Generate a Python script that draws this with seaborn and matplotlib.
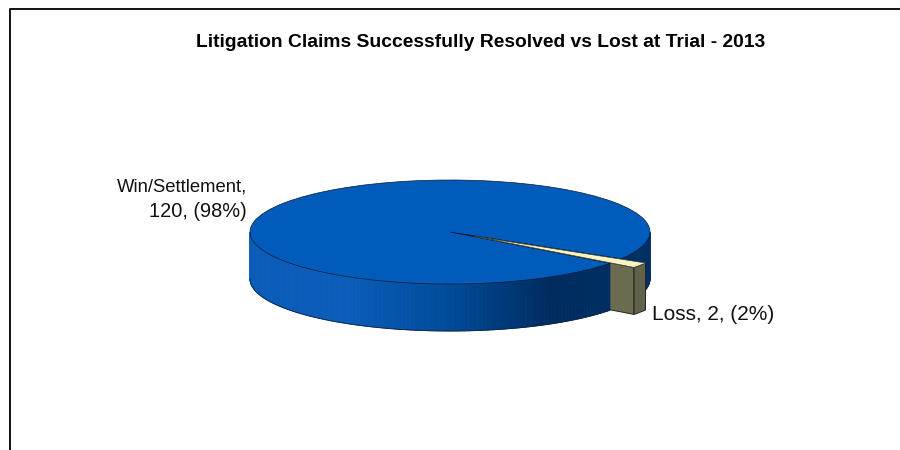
import numpy as np
import seaborn as sns
import matplotlib.pyplot as plt
from matplotlib.lines import Line2D

categories = ['Win/Settlement', 'Loss']
claims = [120, 2]
percents = [98, 2]
title = 'Litigation Claims Successfully Resolved vs Lost at Trial - 2013'

top_colors = ['#005BBB', '#F7F4C4']
wall_colors = ['#0A5CB8', '#0A5CB8', '#004A99', '#002C60', '#003064']
loss_front = '#6B6B50'
loss_side = '#62624A'

sns.set_theme(style='white')
plt.rcParams['font.family'] = ['Liberation Sans', 'DejaVu Sans']

W, H = 900, 450
cx, cy = 450, 232   # pie centre in pixels
rx, ry = 200, 52    # ellipse radii in pixels
depth = 47 / ry     # height of the wall, in pie units
start = -31
explode = 0.145

fig = plt.figure(figsize=(9, 4.5), dpi=100)
ax = fig.add_axes([0, 0, 1, 1])

# split the wedges the way pie does it
sweep = 360 * np.array(claims) / sum(claims)
win_end = start + sweep[0]
loss_mid = np.deg2rad(win_end + sweep[1] / 2)
shift = explode * np.array([np.cos(loss_mid), np.sin(loss_mid)])


def wall(a0, a1, zorder, steps=120):
    # vertical side of the disc, shaded left to right
    angles = np.deg2rad(np.linspace(a0, a1, steps + 1))
    palette = sns.blend_palette(wall_colors, 256)
    for t0, t1 in zip(angles[:-1], angles[1:]):
        xs = np.cos([t0, t1, t1, t0])
        ys = np.sin([t0, t1, t1, t0]) - np.array([0, 0, depth, depth])
        pos = (np.cos((t0 + t1) / 2) + 1) / 2
        c = palette[min(int(pos * 256), 255)]
        ax.fill(xs, ys, color=c, lw=0.6, zorder=zorder)
    # thin outline along the bottom
    ax.plot(np.cos(angles), np.sin(angles) - depth, color='#10243F', lw=0.6, zorder=zorder + 0.1)


# back part of the wall, right of the slice
wall(start, 0, 1, steps=30)

# dark gap left behind by the slice
t0 = np.deg2rad(win_end)
t1 = np.deg2rad(win_end + sweep[1])
ax.fill([0, np.cos(t0), np.cos(t1)], [0, np.sin(t0), np.sin(t1)], color='#00285A', zorder=1.5)

# faces of the pulled out slice
tip = shift
c0 = shift + [np.cos(t0), np.sin(t0)]
ax.fill([tip[0], c0[0], c0[0], tip[0]], [tip[1], c0[1], c0[1] - depth, tip[1] - depth],
        facecolor=loss_front, edgecolor='#222222', lw=0.7, zorder=2)
arc = np.linspace(t0, t1, 12)
arc_x = shift[0] + np.cos(arc)
arc_y = shift[1] + np.sin(arc)
ax.fill(np.r_[arc_x, arc_x[::-1]], np.r_[arc_y, arc_y[::-1] - depth],
        facecolor=loss_side, edgecolor='#222222', lw=0.7, zorder=2)

# front part of the wall hides the left end of the slice face
wall(180, win_end, 3)

# top of the disc
wedges, _ = ax.pie(claims, colors=top_colors, startangle=start,
                   explode=[0, explode], radius=1, center=(0, 0),
                   wedgeprops={'edgecolor': '#0A1A35', 'linewidth': 0.5})
wedges[0].set_zorder(4)
wedges[1].set_zorder(5)
wedges[1].set_edgecolor('#444433')

ax.set_aspect('auto')
ax.set_xlim(-cx / rx, (W - cx) / rx)
ax.set_ylim(-(H - cy) / ry, cy / ry)
ax.axis('off')

# labels, line by line since the widths differ in the original
fig.text(481 / W, 1 - 42.5 / H, title, ha='center', va='center',
         fontsize=13.9, fontweight='bold', color='black')
fig.text(247 / W, 1 - 187 / H, f'{categories[0]},', ha='right', va='center',
         fontsize=13.3, color='#111111')
fig.text(247 / W, 1 - 212 / H, f'{claims[0]}, ({percents[0]}%)', ha='right', va='center',
         fontsize=14.4, color='#111111')
fig.text(652 / W, 1 - 315 / H, f'{categories[1]}, {claims[1]}, ({percents[1]}%)',
         ha='left', va='center', fontsize=15, color='#111111')

# outer frame, only top and left show
fig.add_artist(Line2D([10 / W, 10 / W, 1], [0, 1 - 8.5 / H, 1 - 8.5 / H], color='black', lw=1.3))

fig.savefig('out.png', dpi=100)
